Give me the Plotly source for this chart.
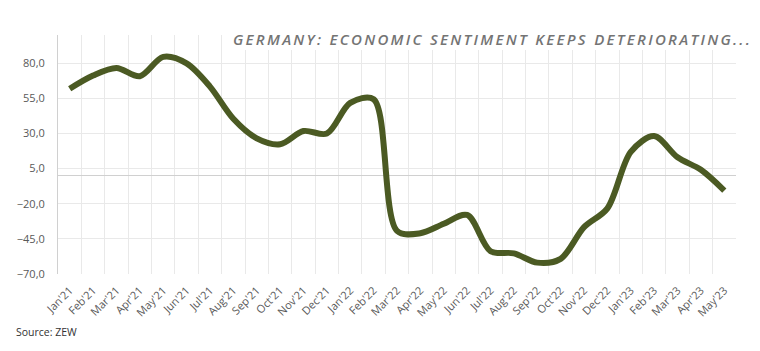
import plotly.graph_objects as go

months = ["Jan'21","Feb'21","Mar'21","Apr'21","May'21","Jun'21","Jul'21","Aug'21","Sep'21","Oct'21",
          "Nov'21","Dec'21","Jan'22","Feb'22","Mar'22","Apr'22","May'22","Jun'22","Jul'22","Aug'22",
          "Sep'22","Oct'22","Nov'22","Dec'22","Jan'23","Feb'23","Mar'23","Apr'23","May'23"]
sentiment = [61.8, 71.2, 76.6, 70.7, 84.4, 79.8, 63.3, 40.4, 26.5, 22.3,
             31.7, 29.9, 51.7, 54.3, -39.3, -41.0, -34.3, -28.0, -53.8, -55.3,
             -61.9, -59.2, -36.7, -23.3, 16.9, 28.1, 13.0, 4.1, -10.7]
y_ticks = [-70, -45, -20, 5, 30, 55, 80]
title_text = "GERMANY: ECONOMIC SENTIMENT KEEPS DETERIORATING..."
source_text = "Source: ZEW"

fig = go.Figure()
fig.add_trace(go.Scatter(
    x=months, y=sentiment, mode="lines",
    line=dict(color="#4b5a23", width=6, shape="spline", smoothing=0.9),
    hoverinfo="x+y", showlegend=False,
))

fig.update_layout(
    width=760, height=351,
    margin=dict(l=58, r=24, t=35, b=77),
    paper_bgcolor="white", plot_bgcolor="white",
    separators=", ",
    xaxis=dict(
        type="category", range=[-0.5, len(months) - 0.5],
        tickson="boundaries", showgrid=True, gridcolor="#e9e9e9", gridwidth=1,
        tickangle=-45, tickfont=dict(family="Open Sans", size=11, color="#595959"),
        ticks="", ticklabelstandoff=7, showline=False, zeroline=False,
    ),
    yaxis=dict(
        range=[-70, 100], tickmode="array", tickvals=y_ticks,
        tickformat=".1f", showgrid=True, gridcolor="#e9e9e9", gridwidth=1,
        zeroline=True, zerolinecolor="#d0d0d0", zerolinewidth=1,
        showline=True, linecolor="#d0d0d0", linewidth=1,
        tickfont=dict(family="Open Sans", size=11, color="#595959"),
        ticks="", ticklabelstandoff=10,
    ),
    shapes=[dict(type="rect", xref="paper", yref="paper", x0=0.245, x1=1.0, y0=0.937, y1=1.0,
                 fillcolor="white", line=dict(width=0), layer="above")],
    annotations=[
        dict(text='<span style="letter-spacing:2.3px">' + title_text + '</span>',
             xref="paper", yref="paper", x=1.0, y=1.0, xanchor="right", yanchor="middle",
             xshift=18, yshift=-4, showarrow=False,
             font=dict(family="Open Sans", size=15, color="#747474", style="italic", weight=600)),
        dict(text=source_text, xref="paper", yref="paper", x=0, y=0, xanchor="left", yanchor="middle",
             xshift=-44, yshift=-58, showarrow=False,
             font=dict(family="Open Sans", size=10.5, color="#333333")),
    ],
)

fig.write_html("out.html")
